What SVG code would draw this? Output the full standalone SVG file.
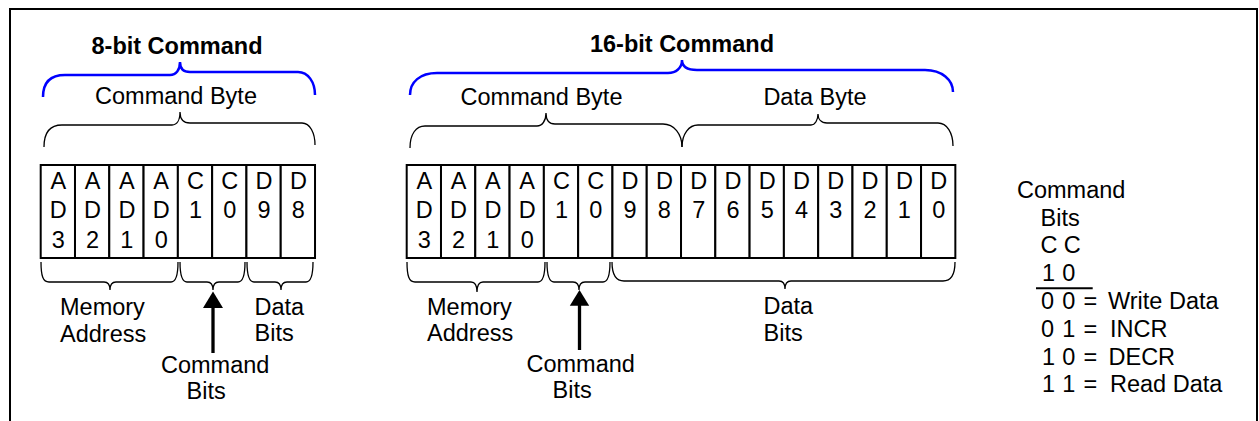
<svg xmlns="http://www.w3.org/2000/svg" width="1259" height="421" viewBox="0 0 1259 421">
<style>
text{font-family:"Liberation Sans",Arial,sans-serif;font-size:23.5px;fill:#000}
.b{font-weight:bold}
.m{text-anchor:middle}
.cell{fill:#fff;stroke:#000;stroke-width:2}
.blue{fill:none;stroke:#0000ff;stroke-width:2.5}
.brace{fill:none;stroke:#000;stroke-width:1.3}
.shaft{stroke:#000;stroke-width:3.3}
</style>
<rect x="10" y="9" width="1247" height="425" fill="#fff" stroke="#000" stroke-width="2"/>

<g id="connectors">
  <path class="blue" d="M43,97 C43,83 50,75 65,75 L170,75 C176,75 180,70 180,62 C180,69 184,72 190,72 L298,72 C308,72 315,82 315,95"/>
  <path class="brace" d="M44,147 C44,133 50,125 62,125 L172,125 C177,125 180,120 180,112 C180,119 183,123 190,123 L302,123 C310,123 315,133 315,145"/>
  <path class="blue" d="M410,95 C410,82 420,73 437,73 L668,73 C676,73 682,68 682,60 C682,67 688,70 697,70 L925,70 C942,70 953,80 953,92"/>
  <path class="brace" d="M410,148 C410,134 416,126 425,126 L537,126 C542,126 546,121 546,113 C546,120 549,124 555,124 L663,124 C674,124 682,134 682,147"/>
  <path class="brace" d="M682,147 C682,134 689,125 698,125 L811,125 C815,125 818,120 818,114 C818,119 821,123 827,123 L938,123 C947,123 953,133 953,146"/>
  <path class="brace" d="M41,262 C41,276 43,282 49,282 L104,282 C108,282 110,285 110,290 C110,285 112,282 116,282 L171,282 C176,282 178,276 178,262"/>
  <path class="brace" d="M180,262 C180,276 182,282 187,282 L207,282 C211,282 213,285 213,290 C213,285 215,282 219,282 L238,282 C243,282 245,276 245,262"/>
  <path class="brace" d="M247,262 C247,276 249,282 254,282 L275,282 C279,282 281,285 281,290 C281,285 283,282 287,282 L306,282 C311,282 313,276 313,262"/>
  <path class="brace" d="M407,262 C407,276 409,282 415,282 L471,282 C475,282 477,286 477,292 C477,286 479,282 483,282 L538,282 C543,282 545,276 545,262"/>
  <path class="brace" d="M547,262 C547,276 549,282 554,282 L573,282 C577,282 579,285 579,290 C579,285 581,282 585,282 L603,282 C608,282 610,276 610,262"/>
  <path class="brace" d="M612,262 C612,275 616,281 624,281 L779,281 C783,281 785,284 785,289 C785,284 787,281 791,281 L943,281 C951,281 955,275 955,262"/>
  <line class="shaft" x1="213" y1="306" x2="213" y2="353"/>
  <polygon points="213,291.5 203,308 223,308" fill="#000"/>
  <line class="shaft" x1="579.5" y1="304" x2="579.5" y2="350"/>
  <polygon points="579.5,290 569.8,305.7 589.2,305.7" fill="#000"/>
</g>

<g id="cmd8">
  <text class="b m" x="177" y="54">8-bit Command</text>
  <text class="m" x="176" y="104">Command Byte</text>
  <g id="cells8">
    <rect class="cell" x="40.7" y="165" width="34.29" height="93"/>
    <rect class="cell" x="74.99" y="165" width="34.29" height="93"/>
    <rect class="cell" x="109.28" y="165" width="34.29" height="93"/>
    <rect class="cell" x="143.57" y="165" width="34.29" height="93"/>
    <rect class="cell" x="177.86" y="165" width="34.29" height="93"/>
    <rect class="cell" x="212.15" y="165" width="34.29" height="93"/>
    <rect class="cell" x="246.44" y="165" width="34.29" height="93"/>
    <rect class="cell" x="280.73" y="165" width="34.29" height="93"/>
    <text class="m" x="58.3" y="189">A</text><text class="m" x="58.3" y="218">D</text><text class="m" x="58.3" y="247.5">3</text>
    <text class="m" x="92.6" y="189">A</text><text class="m" x="92.6" y="218">D</text><text class="m" x="92.6" y="247.5">2</text>
    <text class="m" x="126.9" y="189">A</text><text class="m" x="126.9" y="218">D</text><text class="m" x="126.9" y="247.5">1</text>
    <text class="m" x="161.2" y="189">A</text><text class="m" x="161.2" y="218">D</text><text class="m" x="161.2" y="247.5">0</text>
    <text class="m" x="195.5" y="189">C</text><text class="m" x="195.5" y="218">1</text>
    <text class="m" x="229.8" y="189">C</text><text class="m" x="229.8" y="218">0</text>
    <text class="m" x="264.1" y="189">D</text><text class="m" x="264.1" y="218">9</text>
    <text class="m" x="298.4" y="189">D</text><text class="m" x="298.4" y="218">8</text>
  </g>
  <text x="60" y="315">Memory</text>
  <text x="60" y="341.5">Address</text>
  <text x="254.5" y="315">Data</text>
  <text x="254.5" y="341">Bits</text>
  <text x="161" y="372.5">Command</text>
  <text x="186.5" y="399">Bits</text>
</g>

<g id="cmd16">
  <text class="b m" x="682" y="51.7">16-bit Command</text>
  <text class="m" x="541.5" y="105">Command Byte</text>
  <text class="m" x="815" y="105">Data Byte</text>
  <g id="cells16">
    <rect class="cell" x="406.7" y="165" width="34.29" height="93"/>
    <rect class="cell" x="440.99" y="165" width="34.29" height="93"/>
    <rect class="cell" x="475.28" y="165" width="34.29" height="93"/>
    <rect class="cell" x="509.57" y="165" width="34.29" height="93"/>
    <rect class="cell" x="543.86" y="165" width="34.29" height="93"/>
    <rect class="cell" x="578.15" y="165" width="34.29" height="93"/>
    <rect class="cell" x="612.44" y="165" width="34.29" height="93"/>
    <rect class="cell" x="646.73" y="165" width="34.29" height="93"/>
    <rect class="cell" x="681.02" y="165" width="34.29" height="93"/>
    <rect class="cell" x="715.31" y="165" width="34.29" height="93"/>
    <rect class="cell" x="749.6" y="165" width="34.29" height="93"/>
    <rect class="cell" x="783.89" y="165" width="34.29" height="93"/>
    <rect class="cell" x="818.18" y="165" width="34.29" height="93"/>
    <rect class="cell" x="852.47" y="165" width="34.29" height="93"/>
    <rect class="cell" x="886.76" y="165" width="34.29" height="93"/>
    <rect class="cell" x="921.05" y="165" width="34.29" height="93"/>
    <text class="m" x="424.3" y="189">A</text><text class="m" x="424.3" y="218">D</text><text class="m" x="424.3" y="247.5">3</text>
    <text class="m" x="458.6" y="189">A</text><text class="m" x="458.6" y="218">D</text><text class="m" x="458.6" y="247.5">2</text>
    <text class="m" x="492.9" y="189">A</text><text class="m" x="492.9" y="218">D</text><text class="m" x="492.9" y="247.5">1</text>
    <text class="m" x="527.2" y="189">A</text><text class="m" x="527.2" y="218">D</text><text class="m" x="527.2" y="247.5">0</text>
    <text class="m" x="561.5" y="189">C</text><text class="m" x="561.5" y="218">1</text>
    <text class="m" x="595.8" y="189">C</text><text class="m" x="595.8" y="218">0</text>
    <text class="m" x="630.1" y="189">D</text><text class="m" x="630.1" y="218">9</text>
    <text class="m" x="664.4" y="189">D</text><text class="m" x="664.4" y="218">8</text>
    <text class="m" x="698.7" y="189">D</text><text class="m" x="698.7" y="218">7</text>
    <text class="m" x="733.0" y="189">D</text><text class="m" x="733.0" y="218">6</text>
    <text class="m" x="767.2" y="189">D</text><text class="m" x="767.2" y="218">5</text>
    <text class="m" x="801.5" y="189">D</text><text class="m" x="801.5" y="218">4</text>
    <text class="m" x="835.8" y="189">D</text><text class="m" x="835.8" y="218">3</text>
    <text class="m" x="870.1" y="189">D</text><text class="m" x="870.1" y="218">2</text>
    <text class="m" x="904.4" y="189">D</text><text class="m" x="904.4" y="218">1</text>
    <text class="m" x="938.7" y="189">D</text><text class="m" x="938.7" y="218">0</text>
  </g>
  <text x="427" y="315">Memory</text>
  <text x="427" y="341">Address</text>
  <text x="763.5" y="314">Data</text>
  <text x="763.5" y="340.5">Bits</text>
  <text x="526.5" y="371.7">Command</text>
  <text x="552.5" y="398.3">Bits</text>
</g>

<g id="legend">
  <text x="1017" y="197.7">Command</text>
  <text x="1040.5" y="225.5">Bits</text>
  <text y="253.3"><tspan x="1040.5">C</tspan><tspan x="1063.8">C</tspan></text>
  <text y="281.1"><tspan x="1042">1</tspan><tspan x="1062.3">0</tspan></text>
  <line x1="1036" y1="288.3" x2="1092.7" y2="288.3" stroke="#000" stroke-width="2"/>
  <text y="309"><tspan x="1041">0</tspan><tspan x="1062.3">0</tspan><tspan x="1083.6">=</tspan><tspan x="1108">Write Data</tspan></text>
  <text y="336.7"><tspan x="1041">0</tspan><tspan x="1062.3">1</tspan><tspan x="1083.6">=</tspan><tspan x="1110">INCR</tspan></text>
  <text y="364.5"><tspan x="1042">1</tspan><tspan x="1062.3">0</tspan><tspan x="1083.6">=</tspan><tspan x="1108.5">DECR</tspan></text>
  <text y="392.3"><tspan x="1042">1</tspan><tspan x="1062.3">1</tspan><tspan x="1083.6">=</tspan><tspan x="1110">Read Data</tspan></text>
</g>
</svg>
